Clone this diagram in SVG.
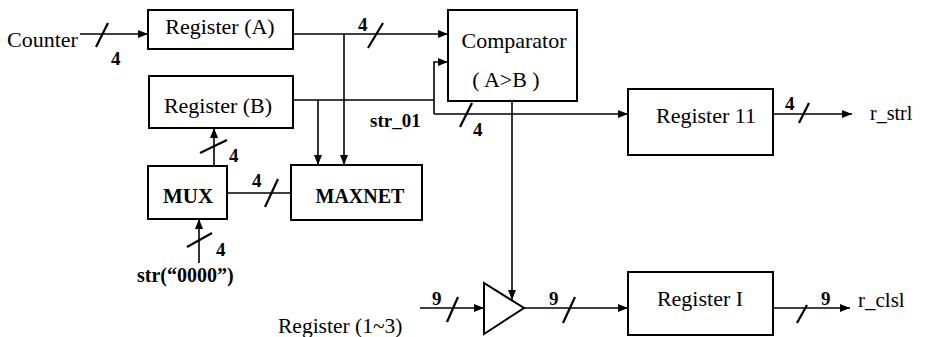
<svg xmlns="http://www.w3.org/2000/svg" width="943" height="337" viewBox="0 0 943 337">
<style>
.box{fill:none;stroke:#000;stroke-width:2}
.ln{fill:none;stroke:#000;stroke-width:1.6}
.sl{fill:none;stroke:#000;stroke-width:2.2}
.arr{marker-end:url(#ah)}
text{font-family:"Liberation Serif","Times New Roman",serif;fill:#000}
.t{font-size:22px}
.m{text-anchor:middle}
.b{font-weight:bold}
.d{font-size:19px;font-weight:bold}
</style>
<defs>
<marker id="ah" markerUnits="userSpaceOnUse" markerWidth="10" markerHeight="8" refX="10" refY="4" orient="auto">
<path d="M0,0 L10,4 L0,8 z" fill="#000"/>
</marker>
</defs>
<rect width="943" height="337" fill="#fff"/>
<g id="connectors">
<line class="ln arr" x1="80" y1="34" x2="148" y2="34"/>
<line class="ln arr" x1="293" y1="34" x2="448" y2="34"/>
<line class="ln arr" x1="344" y1="34" x2="344" y2="165"/>
<line class="ln" x1="293" y1="100" x2="434" y2="100"/>
<line class="ln arr" x1="318" y1="100" x2="318" y2="165"/>
<polyline class="ln arr" points="434,114 434,62 448,62"/>
<line class="ln arr" x1="434" y1="114" x2="628" y2="114"/>
<line class="ln arr" x1="773" y1="114" x2="852" y2="114"/>
<line class="ln arr" x1="214" y1="166" x2="214" y2="128"/>
<line class="ln" x1="227" y1="193" x2="291" y2="193"/>
<line class="ln arr" x1="199" y1="263" x2="199" y2="219"/>
<line class="ln arr" x1="512" y1="101" x2="512" y2="300"/>
<line class="ln arr" x1="420" y1="308" x2="484" y2="308"/>
<line class="ln arr" x1="524" y1="308" x2="628" y2="308"/>
<line class="ln arr" x1="773" y1="308" x2="850" y2="308"/>
<line class="sl" x1="96" y1="47" x2="108" y2="23"/>
<line class="sl" x1="368" y1="48" x2="383" y2="23"/>
<line class="sl" x1="460" y1="127" x2="472" y2="103"/>
<line class="sl" x1="799" y1="123" x2="809" y2="103"/>
<line class="sl" x1="200" y1="153" x2="227" y2="140"/>
<line class="sl" x1="265" y1="207" x2="278" y2="179"/>
<line class="sl" x1="187" y1="247" x2="212" y2="233"/>
<line class="sl" x1="447" y1="322" x2="458" y2="297"/>
<line class="sl" x1="563" y1="323" x2="575" y2="297"/>
<line class="sl" x1="797" y1="323" x2="807" y2="305"/>
<text class="d" x="111" y="65">4</text>
<text class="d" x="358" y="31">4</text>
<text class="d" x="473" y="136">4</text>
<text class="d" x="785" y="110">4</text>
<text class="d" x="229" y="162">4</text>
<text class="d" x="252" y="187">4</text>
<text class="d" x="216" y="256">4</text>
<text class="d" x="432" y="305">9</text>
<text class="d" x="549" y="305">9</text>
<text class="d" x="821" y="305">9</text>
<text class="b" x="370" y="127" font-size="19">str_01</text>
</g>
<g id="counter"><text class="t" x="7" y="47">Counter</text></g>
<g id="regA"><rect class="box" x="148" y="10" width="145" height="39"/><text class="t m" x="220" y="34">Register (A)</text></g>
<g id="regB"><rect class="box" x="149" y="76" width="144" height="52"/><text class="t m" x="218" y="113">Register (B)</text></g>
<g id="comparator"><rect class="box" x="448" y="10" width="129" height="91"/><text class="t m" x="514" y="48">Comparator</text><text class="t m" x="506" y="87" font-size="21">( A&gt;B )</text></g>
<g id="reg11"><rect class="box" x="628" y="89" width="145" height="66"/><text class="t m" x="706" y="123" font-size="21">Register 11</text></g>
<g id="r_strl"><text x="870" y="120" font-size="20">r_strl</text></g>
<g id="mux"><rect class="box" x="148" y="166" width="79" height="53"/><text class="b m" x="188" y="203" font-size="21">MUX</text></g>
<g id="maxnet"><rect class="box" x="291" y="165" width="131" height="55"/><text class="b m" x="360" y="203" font-size="20">MAXNET</text></g>
<g id="str0000"><text class="b" x="137" y="282" font-size="20">str(“0000”)</text></g>
<g id="reg13"><text x="278" y="333" font-size="21.5">Register (1~3)</text></g>
<g id="buffer"><polygon class="box" points="484,283 484,334 524,308"/></g>
<g id="regI"><rect class="box" x="628" y="272" width="145" height="63"/><text class="t m" x="700" y="306">Register I</text></g>
<g id="r_clsl"><text x="858" y="307" font-size="21">r_clsl</text></g>
</svg>
